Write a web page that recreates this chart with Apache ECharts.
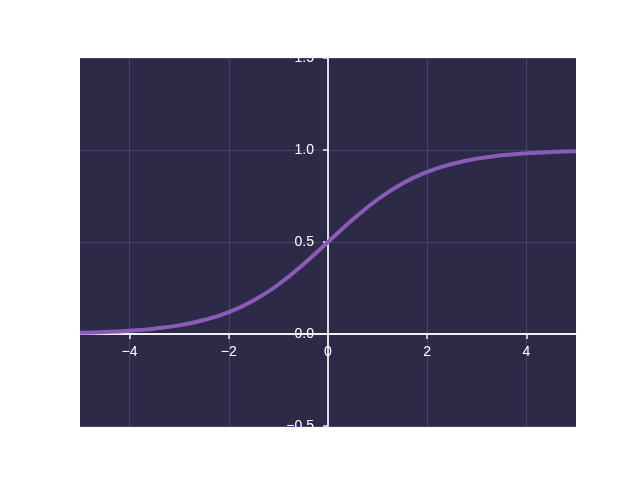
<!DOCTYPE html>
<html>
<head>
<meta charset="utf-8">
<script src="https://cdn.jsdelivr.net/npm/echarts@6/dist/echarts.min.js"></script>
<style>html,body{margin:0;padding:0;background:#fff}#c{width:640px;height:480px}</style>
</head>
<body>
<div id="c"></div>
<script>
const xValues = [-5, -4.5, -4, -3.5, -3, -2.5, -2, -1.5, -1, -0.5, 0, 0.5, 1, 1.5, 2, 2.5, 3, 3.5, 4, 4.5, 5];
const yValues = [0.007, 0.011, 0.018, 0.029, 0.047, 0.076, 0.119, 0.182, 0.269, 0.378, 0.5, 0.622, 0.731, 0.818, 0.881, 0.924, 0.953, 0.971, 0.982, 0.989, 0.993];
const xTicks = [-4, -2, 0, 2, 4];
const yTicks = [-0.5, 0, 0.5, 1.0, 1.5];

const X_MIN = -5, X_MAX = 5, Y_MIN = -0.5, Y_MAX = 1.5;
const G = {left: 80, right: 64, top: 58, bottom: 54};
const plotW = 640 - G.left - G.right, plotH = 480 - G.top - G.bottom;
// spines placed at zero
const yAxisOffset = -((0 - X_MIN) / (X_MAX - X_MIN)) * plotW;
const xAxisOffset = -((0 - Y_MIN) / (Y_MAX - Y_MIN)) * plotH;

const FONT = "'Liberation Sans', Arial, sans-serif";
const fmt = v => String(v).replace('-', '\u2212');
const chart = echarts.init(document.getElementById('c'), null, {renderer: 'canvas'});
chart.setOption({
  backgroundColor: '#ffffff',
  animation: false,
  grid: Object.assign({show: true, backgroundColor: '#2d2a47', borderWidth: 0}, G),
  xAxis: {
    type: 'value', min: X_MIN, max: X_MAX, position: 'bottom', offset: xAxisOffset,
    axisLine: {onZero: false, lineStyle: {color: '#f0eef6', width: 1.8}},
    axisTick: {show: true, inside: false, length: 5, customValues: xTicks, lineStyle: {color: '#f0eef6', width: 1.5}},
    axisLabel: {customValues: xTicks, margin: 11, color: '#ffffff', fontFamily: FONT, fontSize: 14, formatter: v => fmt(v)},
    splitLine: {show: true, lineStyle: {color: '#464073', width: 1}}
  },
  yAxis: {
    type: 'value', min: Y_MIN, max: Y_MAX, position: 'left', offset: yAxisOffset,
    axisLine: {show: true, onZero: false, lineStyle: {color: '#f0eef6', width: 1.8}},
    axisTick: {show: true, inside: false, length: 5, customValues: yTicks, lineStyle: {color: '#f0eef6', width: 1.5}},
    axisLabel: {customValues: yTicks, margin: 14, color: '#ffffff', fontFamily: FONT, fontSize: 14, formatter: v => fmt(Number(v).toFixed(1))},
    splitLine: {show: true, lineStyle: {color: '#464073', width: 1}}
  },
  series: [{
    type: 'line',
    data: xValues.map((x, i) => [x, yValues[i]]),
    smooth: true,
    showSymbol: false,
    lineStyle: {color: '#8a5cb8', width: 4},
    z: 1
  }]
});
</script>
</body>
</html>
